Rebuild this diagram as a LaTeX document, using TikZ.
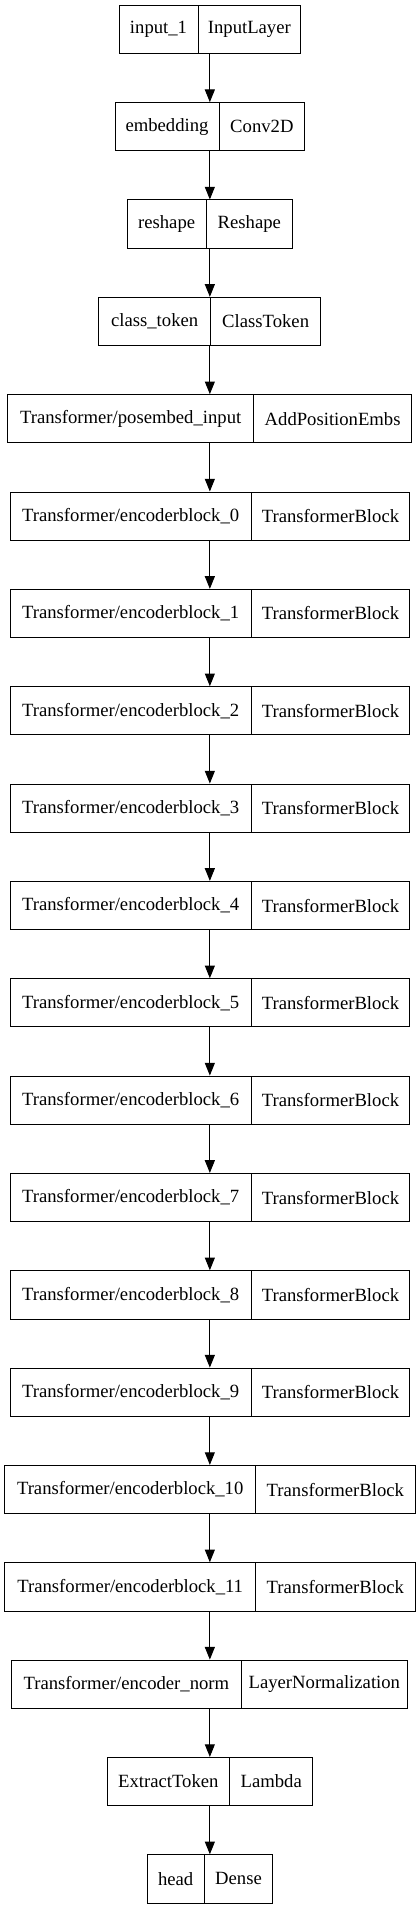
\documentclass[tikz,border=0pt]{standalone}
\usepackage{fontspec}
\setmainfont{Liberation Serif}
\usetikzlibrary{arrows.meta}
\newcommand\mklayer[7]{%
  % #1 name, #2 top (px), #3 left, #4 divider, #5 right, #6 left text, #7 right text
  \node[layerbox, minimum width={(#5-#3)*0.75pt}] (#1) at (209.85,{#2+24.15}) {};
  \draw[divline] (#4,#2) -- (#4,{#2+48.3});
  \node[lbl] (#1l) at ({(#3+#4)/2},{#2+24.15}) {#6};
  \node[lbl] (#1r) at ({(#4+#5)/2},{#2+24.15}) {#7};
}
\begin{document}
\begin{tikzpicture}[x=0.75pt,y=-0.75pt,
  layerbox/.style={draw=black, line width=0.75pt, rectangle, minimum height=36.2pt, inner sep=0pt, fill=none},
  divline/.style={draw=black, line width=0.75pt},
  lbl/.style={inner sep=0pt, font=\fontsize{14}{16}\selectfont},
  arr/.style={draw=black, line width=0.75pt, -{Triangle[length=9.5pt,width=7.5pt]}}]
\useasboundingbox[fill=white] (0,0) rectangle (420,1909);
\mklayer{n1}{5.3}{119}{198}{300.7}{input\_1}{InputLayer}
\mklayer{n2}{102.64}{115}{219}{304.7}{embedding}{Conv2D}
\mklayer{n3}{199.98}{127.3}{206}{292.7}{reshape}{Reshape}
\mklayer{n4}{297.32}{99}{210.3}{321}{class\_token}{ClassToken}
\mklayer{n5}{394.66}{8}{253.3}{412}{Transformer/posembed\_input}{AddPositionEmbs}
\mklayer{n6}{492.0}{10}{251.3}{409.7}{Transformer/encoderblock\_0}{TransformerBlock}
\mklayer{n7}{589.34}{10}{251.3}{409.7}{Transformer/encoderblock\_1}{TransformerBlock}
\mklayer{n8}{686.68}{10}{251.3}{409.7}{Transformer/encoderblock\_2}{TransformerBlock}
\mklayer{n9}{784.02}{10}{251.3}{409.7}{Transformer/encoderblock\_3}{TransformerBlock}
\mklayer{n10}{881.36}{10}{251.3}{409.7}{Transformer/encoderblock\_4}{TransformerBlock}
\mklayer{n11}{978.7}{10}{251.3}{409.7}{Transformer/encoderblock\_5}{TransformerBlock}
\mklayer{n12}{1076.04}{10}{251.3}{409.7}{Transformer/encoderblock\_6}{TransformerBlock}
\mklayer{n13}{1173.38}{10}{251.3}{409.7}{Transformer/encoderblock\_7}{TransformerBlock}
\mklayer{n14}{1270.72}{10}{251.3}{409.7}{Transformer/encoderblock\_8}{TransformerBlock}
\mklayer{n15}{1368.06}{10}{251.3}{409.7}{Transformer/encoderblock\_9}{TransformerBlock}
\mklayer{n16}{1465.4}{4.7}{255.7}{415}{Transformer/encoderblock\_10}{TransformerBlock}
\mklayer{n17}{1562.74}{4.7}{255.7}{415}{Transformer/encoderblock\_11}{TransformerBlock}
\mklayer{n18}{1660.08}{11.7}{241}{407.7}{Transformer/encoder\_norm}{LayerNormalization}
\mklayer{n19}{1757.42}{107}{229.7}{312.7}{ExtractToken}{Lambda}
\mklayer{n20}{1854.76}{147}{204.3}{272.7}{head}{Dense}
\foreach \a/\b in {n1/n2,n2/n3,n3/n4,n4/n5,n5/n6,n6/n7,n7/n8,n8/n9,n9/n10,n10/n11,n11/n12,n12/n13,n13/n14,n14/n15,n15/n16,n16/n17,n17/n18,n18/n19,n19/n20}
  \draw[arr] (\a.south) -- (\b.north);
\end{tikzpicture}
\end{document}
